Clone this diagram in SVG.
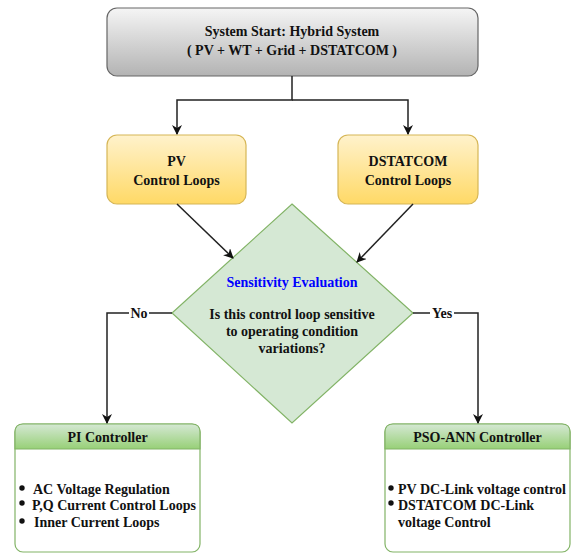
<svg xmlns="http://www.w3.org/2000/svg" width="572" height="555" viewBox="0 0 572 555">
<defs>
<linearGradient id="gGray" x1="0" y1="0" x2="0" y2="1"><stop offset="0" stop-color="#f5f5f5"/><stop offset="1" stop-color="#b3b3b3"/></linearGradient>
<linearGradient id="gYellow" x1="0" y1="0" x2="0" y2="1"><stop offset="0" stop-color="#fff2cc"/><stop offset="1" stop-color="#ffd966"/></linearGradient>
<linearGradient id="gGreen" x1="0" y1="0" x2="0" y2="1"><stop offset="0" stop-color="#d5e8d4"/><stop offset="1" stop-color="#97d077"/></linearGradient>
<marker id="arr" viewBox="0 0 10 10" refX="9" refY="5" markerWidth="10" markerHeight="10" markerUnits="userSpaceOnUse" orient="auto">
<path d="M0,0 L10,5 L0,10 L3,5 z" fill="#111"/>
</marker>
<style>
text{font-family:"Liberation Serif","Times New Roman",serif;font-weight:bold;font-size:14px;fill:#111;}
.c{text-anchor:middle;}
.edge{fill:none;stroke:#222;stroke-width:1.5;}
.lbl{fill:#fff;}
</style>
</defs>
<g id="start">
<rect x="107" y="8" width="371" height="68" rx="10" fill="url(#gGray)" stroke="#666" stroke-width="1.2"/>
<text class="c" x="292" y="36">System Start: Hybrid System</text>
<text class="c" x="292" y="55">( PV + WT + Grid + DSTATCOM )</text>
</g>
<g id="pv">
<rect x="107" y="135" width="139" height="69" rx="10" fill="url(#gYellow)" stroke="#d6b656" stroke-width="1.2"/>
<text class="c" x="176.5" y="166">PV</text>
<text class="c" x="176.5" y="185">Control Loops</text>
</g>
<g id="dstatcom">
<rect x="338" y="135" width="140" height="69" rx="10" fill="url(#gYellow)" stroke="#d6b656" stroke-width="1.2"/>
<text class="c" x="408" y="166">DSTATCOM</text>
<text class="c" x="408" y="185">Control  Loops</text>
</g>
<g id="decision">
<polygon points="292,204 413,313 292,423 172,313" fill="#d5e8d4" stroke="#82b366" stroke-width="1.2"/>
<text class="c" x="292" y="287" style="fill:#0000ff">Sensitivity Evaluation</text>
<text class="c" x="292" y="319">Is this control loop sensitive</text>
<text class="c" x="292" y="336">to operating condition</text>
<text class="c" x="292" y="353">variations?</text>
</g>
<g id="pi">
<rect x="15" y="424" width="185" height="128" rx="8" fill="#fff" stroke="#82b366" stroke-width="1.2"/>
<path d="M15,449 V432 Q15,424 23,424 H192 Q200,424 200,432 V449 Z" fill="url(#gGreen)" stroke="#82b366" stroke-width="1.2"/>
<text class="c" x="107.5" y="442">PI Controller</text>
<circle cx="22" cy="488" r="2.7" fill="#111"/>
<circle cx="22" cy="503" r="2.7" fill="#111"/>
<circle cx="22" cy="521" r="2.7" fill="#111"/>
<text x="33" y="494">AC Voltage Regulation</text>
<text x="32" y="510">P,Q Current Control Loops</text>
<text x="34" y="527">Inner Current Loops</text>
</g>
<g id="psoann">
<rect x="385" y="424" width="185" height="128" rx="8" fill="#fff" stroke="#82b366" stroke-width="1.2"/>
<path d="M385,449 V432 Q385,424 393,424 H562 Q570,424 570,432 V449 Z" fill="url(#gGreen)" stroke="#82b366" stroke-width="1.2"/>
<text class="c" x="477.5" y="442">PSO-ANN Controller</text>
<circle cx="391" cy="488" r="2.7" fill="#111"/>
<circle cx="391" cy="503" r="2.7" fill="#111"/>
<text x="398" y="494">PV DC-Link voltage control</text>
<text x="398" y="510">DSTATCOM DC-Link</text>
<text x="398" y="527">voltage Control</text>
</g>
<g id="connectors">
<path class="edge" d="M292,76 V100 H177 V134" marker-end="url(#arr)"/>
<path class="edge" d="M292,100 H408 V134" marker-end="url(#arr)"/>
<path class="edge" d="M177,204 L233,258" marker-end="url(#arr)"/>
<path class="edge" d="M413,204 L357,262" marker-end="url(#arr)"/>
<path class="edge" d="M172,313 H107 V423" marker-end="url(#arr)"/>
<path class="edge" d="M413,313 H478 V423" marker-end="url(#arr)"/>
<rect class="lbl" x="129" y="306" width="20" height="14"/>
<text class="c" x="139" y="318">No</text>
<rect class="lbl" x="430" y="306" width="24" height="14"/>
<text class="c" x="442" y="318">Yes</text>
</g>
</svg>
